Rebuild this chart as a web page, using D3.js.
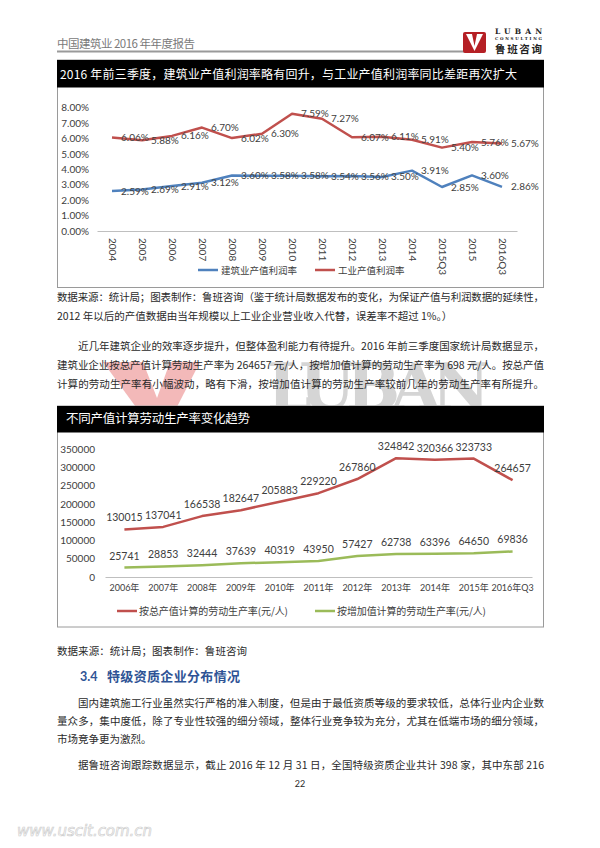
<!DOCTYPE html>
<html><head><meta charset="utf-8">
<script src="https://cdn.jsdelivr.net/npm/d3@7"></script>
<style>body{margin:0;background:#fff}svg{display:block}</style>
</head><body><svg id="page" width="600" height="848"></svg>
<script>
// ---------- DATA ----------
const years1 = ["2004","2005","2006","2007","2008","2009","2010","2011","2012","2013","2014","2015Q3","2015","2016Q3"];
const buildRate = [2.59,2.69,2.91,3.12,3.60,3.58,3.58,3.54,3.56,3.50,3.91,2.85,3.60,2.86];
const industryRate = [6.06,5.88,6.16,6.70,6.02,6.30,7.59,7.27,6.07,6.11,5.91,5.40,5.76,5.67];
const rateTicks = [0,1,2,3,4,5,6,7,8];
const series1Names = ["建筑业产值利润率","工业产值利润率"];

const years2 = ["2006年","2007年","2008年","2009年","2010年","2011年","2012年","2013年","2014年","2015年","2016年Q3"];
const grossProd = [130015,137041,166538,182647,205883,229220,267860,324842,320366,323733,264657];
const addedProd = [25741,28853,32444,37639,40319,43950,57427,62738,63396,64650,69836];
const prodTicks = [0,50000,100000,150000,200000,250000,300000,350000];
const series2Names = ["按总产值计算的劳动生产率(元/人)","按增加值计算的劳动生产率(元/人)"];

const title1 = "2016 年前三季度，建筑业产值利润率略有回升，与工业产值利润率同比差距再次扩大";
const title2 = "不同产值计算劳动生产率变化趋势";

// ---------- SETUP ----------
const svg = d3.select("#page");
const CJK = "'Noto Sans CJK SC','Noto Sans',sans-serif";
const NUM = "Lato,'Noto Sans CJK SC',sans-serif";
const BLUE = "#4F81BD", RED = "#C0504D", GREEN = "#9BBB59", LBL = "#404040";

function txt(g, x, y, s, o = {}) {
  const t = g.append("text").attr("x", x).attr("y", y).text(s)
    .attr("font-family", o.family || CJK).attr("font-size", o.size || 10.5)
    .attr("fill", o.fill || "#2a2a2a");
  if (o.len) t.attr("textLength", o.len).attr("lengthAdjust", "spacing");
  if (o.weight) t.attr("font-weight", o.weight);
  if (o.anchor) t.attr("text-anchor", o.anchor);
  return t;
}

// ---------- HEADER ----------
txt(svg, 57, 47.5, "中国建筑业 2016 年年度报告", {size: 11.5, fill: "#7a7a7a", len: 138});
svg.append("line").attr("x1", 57).attr("x2", 478).attr("y1", 51.5).attr("y2", 51.5)
  .attr("stroke", "#9a9a9a").attr("stroke-width", 2);
// logo
svg.append("rect").attr("x", 463).attr("y", 32).attr("width", 23).attr("height", 21).attr("rx", 2).attr("fill", "#B52025");
svg.append("path").attr("d", "M466,34 L472,34 L474.5,46 L477,34 L483,34 L474.5,51 Z").attr("fill", "#fff");
txt(svg, 495, 33.5, "LUBAN", {family: "'DejaVu Serif',serif", size: 7.5, weight: "bold", fill: "#222", len: 47});
txt(svg, 495, 40, "CONSULTING", {family: "'DejaVu Serif',serif", size: 4, weight: "bold", fill: "#222", len: 47});
txt(svg, 495, 52.5, "鲁班咨询", {size: 10.5, fill: "#222", weight: "bold", len: 47});

// ---------- WATERMARK ----------
const wm = svg.append("g").attr("opacity", 0.7);
wm.append("path").attr("d", "M103,362 L200,362 L160,440 Z").attr("fill", "#EE9C9C");
wm.append("path").attr("d", "M143,362 L170,362 L157,398 Z").attr("fill", "#fff");
txt(wm, 267, 409, "LUBAN", {family: "'DejaVu Serif',serif", size: 64, weight: "bold", fill: "#c4c4c4", len: 223});

// ---------- BODY TEXT ----------
const L = 57, R = 544, IND = 78;
txt(svg, L, 301, "数据来源：统计局；图表制作：鲁班咨询（鉴于统计局数据发布的变化，为保证产值与利润数据的延续性，", {len: R - L});
txt(svg, L, 320, "2012 年以后的产值数据由当年规模以上工业企业营业收入代替，误差率不超过 1%。）");
txt(svg, IND, 350, "近几年建筑企业的效率逐步提升，但整体盈利能力有待提升。2016 年前三季度国家统计局数据显示，", {len: R - IND});
txt(svg, L, 369, "建筑业企业按总产值计算劳动生产率为 264657 元/人，按增加值计算的劳动生产率为 698 元/人。按总产值", {len: R - L});
txt(svg, L, 388, "计算的劳动生产率有小幅波动，略有下滑，按增加值计算的劳动生产率较前几年的劳动生产率有所提升。", {len: R - L});

txt(svg, L, 655, "数据来源：统计局；图表制作：鲁班咨询", {len: 190});
txt(svg, 80, 681, "3.4", {size: 12.5, weight: "bold", fill: "#2E5395", family: NUM});
txt(svg, 107, 681, "特级资质企业分布情况", {size: 13, weight: "bold", fill: "#2E5395", len: 133});
txt(svg, IND, 707, "国内建筑施工行业虽然实行严格的准入制度，但是由于最低资质等级的要求较低，总体行业内企业数", {len: R - IND});
txt(svg, L, 725, "量众多，集中度低，除了专业性较强的细分领域，整体行业竞争较为充分，尤其在低端市场的细分领域，", {len: R - L});
txt(svg, L, 743, "市场竞争更为激烈。");
txt(svg, IND, 769, "据鲁班咨询跟踪数据显示，截止 2016 年 12 月 31 日，全国特级资质企业共计 398 家，其中东部 216", {len: R - IND});
txt(svg, 300, 787, "22", {size: 9, anchor: "middle", family: NUM});
txt(svg, 17, 836, "www.uscit.com.cn", {family: "'DejaVu Sans',sans-serif", size: 15, fill: "#fff", len: 135})
  .attr("font-style", "italic").attr("stroke", "#cfcfcf").attr("stroke-width", 0.7);

// ---------- CHART 1 ----------
const c1 = svg.append("g");
c1.append("rect").attr("x", 57.5).attr("y", 60).attr("width", 486).attr("height", 227.5)
  .attr("fill", "#fff").attr("stroke", "#9a9a9a");
c1.append("rect").attr("x", 57).attr("y", 60).attr("width", 487).attr("height", 27.5).attr("fill", "#000");
txt(c1, 60, 79, title1, {size: 12, fill: "#fff", len: 457});

const x1 = d3.scaleBand().domain(years1).range([97, 517]);
const y1 = d3.scaleLinear().domain([0, 8]).range([231, 107.5]);

const ya1 = c1.append("g").attr("transform", "translate(92,0)")
  .call(d3.axisLeft(y1).tickValues(rateTicks).tickSize(0).tickPadding(3).tickFormat(d => d.toFixed(2) + "%"));
ya1.select(".domain").remove();
ya1.selectAll("text").attr("font-family", NUM).attr("font-size", 10).attr("fill", LBL);

const xa1 = c1.append("g").attr("transform", "translate(0,231)")
  .call(d3.axisBottom(x1).tickSize(0));
xa1.select(".domain").attr("stroke", "#bfbfbf");
xa1.selectAll("text").attr("transform", "rotate(90)").attr("x", 7).attr("y", 0).attr("dy", "0.35em")
  .attr("text-anchor", "start").attr("font-family", NUM).attr("font-size", 10).attr("fill", LBL);

const ln1 = d3.line().x((d, i) => x1(years1[i]) + x1.bandwidth() / 2).y(d => y1(d));
[[buildRate, BLUE], [industryRate, RED]].forEach(([vals, col]) => {
  c1.append("path").datum(vals).attr("d", ln1).attr("fill", "none").attr("stroke", col)
    .attr("stroke-width", 2.5).attr("stroke-linejoin", "round");
  c1.append("g").selectAll("text").data(vals).join("text")
    .attr("x", (d, i) => x1(years1[i]) + x1.bandwidth() / 2 + 9)
    .attr("y", d => y1(d) + 3.5)
    .attr("font-family", NUM).attr("font-size", 10).attr("fill", LBL)
    .text(d => d.toFixed(2) + "%");
});
// legend 1
[[series1Names[0], BLUE, 198], [series1Names[1], RED, 315]].forEach(([n, col, lx]) => {
  c1.append("line").attr("x1", lx).attr("x2", lx + 20).attr("y1", 270).attr("y2", 270)
    .attr("stroke", col).attr("stroke-width", 2.5);
  txt(c1, lx + 23, 274, n, {size: 9.5, fill: LBL});
});

// ---------- CHART 2 ----------
const c2 = svg.append("g");
c2.append("rect").attr("x", 57.5).attr("y", 406).attr("width", 486).attr("height", 221)
  .attr("fill", "#fff").attr("stroke", "#9a9a9a");
c2.append("rect").attr("x", 57).attr("y", 406).attr("width", 487).attr("height", 26.5).attr("fill", "#000");
txt(c2, 66, 423, title2, {size: 12.5, fill: "#fff", len: 184});

const x2 = d3.scaleBand().domain(years2).range([105, 532]);
const y2 = d3.scaleLinear().domain([0, 350000]).range([577, 449]);

const ya2 = c2.append("g").attr("transform", "translate(98,0)")
  .call(d3.axisLeft(y2).tickValues(prodTicks).tickSize(0).tickPadding(3).tickFormat(d => String(d)));
ya2.select(".domain").remove();
ya2.selectAll("text").attr("font-family", NUM).attr("font-size", 10).attr("fill", LBL);

const xa2 = c2.append("g").attr("transform", "translate(0,577)")
  .call(d3.axisBottom(x2).tickSize(0).tickPadding(7.5));
xa2.select(".domain").attr("stroke", "#bfbfbf");
xa2.selectAll("text").attr("font-family", NUM).attr("font-size", 9).attr("fill", LBL);

const ln2 = d3.line().x((d, i) => x2(years2[i]) + x2.bandwidth() / 2).y(d => y2(d));
[[grossProd, RED], [addedProd, GREEN]].forEach(([vals, col]) => {
  c2.append("path").datum(vals).attr("d", ln2).attr("fill", "none").attr("stroke", col)
    .attr("stroke-width", 2.5).attr("stroke-linejoin", "round");
  c2.append("g").selectAll("text").data(vals).join("text")
    .attr("x", (d, i) => x2(years2[i]) + x2.bandwidth() / 2)
    .attr("y", d => y2(d) - 8)
    .attr("text-anchor", "middle")
    .attr("font-family", NUM).attr("font-size", 10.5).attr("fill", LBL)
    .text(d => d);
});
[[series2Names[0], RED, 117], [series2Names[1], GREEN, 315]].forEach(([n, col, lx]) => {
  c2.append("line").attr("x1", lx).attr("x2", lx + 20).attr("y1", 611).attr("y2", 611)
    .attr("stroke", col).attr("stroke-width", 2.5);
  txt(c2, lx + 22, 615, n, {size: 10, fill: LBL, len: 149});
});
</script></body></html>
